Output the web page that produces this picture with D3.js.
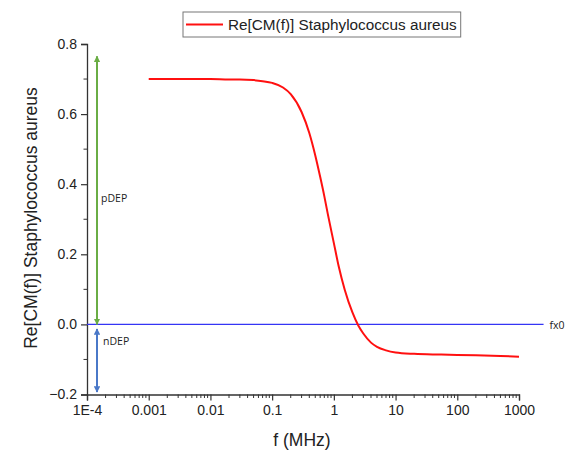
<!DOCTYPE html>
<html>
<head>
<meta charset="utf-8">
<script src="https://cdn.jsdelivr.net/npm/d3@7"></script>
<style>
  body { margin: 0; background: #fff; }
  svg { display: block; }
  text { font-family: "Liberation Sans", Arial, sans-serif; }
  .note { font-family: "Open Sans", "DejaVu Sans", sans-serif; }
</style>
</head>
<body>
<svg id="chart" width="570" height="453"></svg>
<script>
const freq = [0.001, 0.003, 0.01, 0.02, 0.03, 0.05, 0.07, 0.1, 0.15, 0.2, 0.3, 0.4, 0.5, 0.6, 0.7, 0.8,
              1, 1.2, 1.5, 2, 2.5, 3, 4, 5, 7, 10, 20, 50, 100, 200, 500, 1000];
const reCM = [0.700, 0.700, 0.700, 0.699, 0.699, 0.697, 0.694, 0.689, 0.676, 0.657, 0.606, 0.546, 0.482, 0.421, 0.366, 0.314,
              0.232, 0.165, 0.099, 0.034, -0.004, -0.026, -0.052, -0.064, -0.074, -0.080, -0.084, -0.086, -0.087, -0.088, -0.090, -0.092];

const xTicks = [1e-4, 1e-3, 1e-2, 1e-1, 1, 10, 100, 1000];
const xTickLabels = ["1E-4", "0.001", "0.01", "0.1", "1", "10", "100", "1000"];
const yTicks = [-0.2, 0.0, 0.2, 0.4, 0.6, 0.8];

// annotation arrows (y values), zero line extent
const pdepRange = [0.0, 0.765];
const ndepRange = [-0.013, -0.193];
const zeroLineEnd = 2500;

const legendLabel = "Re[CM(f)] Staphylococcus aureus";

let margin = {left: 87, right: 51, top: 44, bottom: 58.5};
let width = 570, height = 453;
let svg = d3.select("#chart");

let xScale = d3.scaleLog()
    .domain([1e-4, 1000])
    .range([margin.left, width - margin.right]);
let yScale = d3.scaleLinear()
    .domain([-0.2, 0.8])
    .range([height - margin.bottom, margin.top]);

// minor ticks for log axis (2..9 in each decade)
let xMinor = [];
for (let d = -4; d < 3; d++) {
    for (let k = 2; k <= 9; k++) xMinor.push(k * Math.pow(10, d));
}
let yMinor = d3.range(-0.1, 0.8, 0.2);

// x axis
let xAxis = d3.axisBottom(xScale).tickValues(xTicks)
    .tickFormat((d, i) => xTickLabels[i]).tickSize(6).tickPadding(5);
let gx = svg.append("g")
    .attr("transform", "translate(0," + yScale(-0.2) + ")")
    .call(xAxis);
gx.append("g").selectAll("line").data(xMinor).enter().append("line")
    .attr("x1", d => xScale(d)).attr("x2", d => xScale(d))
    .attr("y1", 0).attr("y2", 3.5)
    .attr("stroke", "#333");

// y axis
let yAxis = d3.axisLeft(yScale).tickValues(yTicks)
    .tickFormat(d3.format(".1f")).tickSize(6).tickPadding(4);
let gy = svg.append("g")
    .attr("transform", "translate(" + xScale(1e-4) + ",0)")
    .call(yAxis);
gy.append("g").selectAll("line").data(yMinor).enter().append("line")
    .attr("x1", 0).attr("x2", -3.5)
    .attr("y1", d => yScale(d)).attr("y2", d => yScale(d))
    .attr("stroke", "#333");

[gx, gy].forEach(g => {
    g.attr("font-size", null).attr("font-family", null);
    g.select(".domain").attr("stroke", "#333").attr("stroke-width", 1.3);
    g.selectAll(".tick line").attr("stroke", "#333").attr("stroke-width", 1.2);
    g.selectAll(".tick text").style("font-size", "14px").attr("fill", "#222")
        .style("font-family", "'Liberation Sans', Arial, sans-serif");
});

// zero line
svg.append("line")
    .attr("x1", xScale(1e-4)).attr("x2", xScale(zeroLineEnd))
    .attr("y1", yScale(0)).attr("y2", yScale(0))
    .attr("stroke", "#3535f5").attr("stroke-width", 1.3);
svg.append("text").attr("class", "note")
    .attr("x", xScale(zeroLineEnd) + 6).attr("y", yScale(0) + 4.5)
    .style("font-size", "10.5px").attr("fill", "#222").text("fx0");

// arrows
let defs = svg.append("defs");
function marker(id, color) {
    defs.append("marker").attr("id", id)
        .attr("viewBox", "0 0 10 10").attr("refX", 9).attr("refY", 5)
        .attr("markerWidth", 3.2).attr("markerHeight", 3.2)
        .attr("orient", "auto-start-reverse")
        .append("path").attr("d", "M0,0 L10,5 L0,10 Z").attr("fill", color);
}
marker("arrG", "#6aad45");
marker("arrB", "#4a78c8");
let arrowX = xScale(1e-4) + 10;
svg.append("line")
    .attr("x1", arrowX).attr("x2", arrowX)
    .attr("y1", yScale(pdepRange[0])).attr("y2", yScale(pdepRange[1]))
    .attr("stroke", "#6aad45").attr("stroke-width", 2)
    .attr("marker-start", "url(#arrG)").attr("marker-end", "url(#arrG)");
svg.append("line")
    .attr("x1", arrowX).attr("x2", arrowX)
    .attr("y1", yScale(ndepRange[0])).attr("y2", yScale(ndepRange[1]))
    .attr("stroke", "#4a78c8").attr("stroke-width", 2)
    .attr("marker-start", "url(#arrB)").attr("marker-end", "url(#arrB)");
svg.append("text").attr("class", "note")
    .attr("x", arrowX + 4).attr("y", yScale(0.35))
    .style("font-size", "10.5px").attr("fill", "#222").text("pDEP");
svg.append("text").attr("class", "note")
    .attr("x", arrowX + 6).attr("y", yScale(-0.058))
    .style("font-size", "10.5px").attr("fill", "#222").text("nDEP");

// curve
let line = d3.line()
    .x((d, i) => xScale(freq[i]))
    .y(d => yScale(d))
    .curve(d3.curveMonotoneX);
svg.append("path")
    .datum(reCM)
    .attr("d", line)
    .attr("fill", "none")
    .attr("stroke", "#ff1010")
    .attr("stroke-width", 2);

// axis titles
svg.append("text")
    .attr("x", (xScale(1e-4) + xScale(1000)) / 2 - 1).attr("y", 446)
    .attr("text-anchor", "middle").style("font-size", "17.5px").attr("fill", "#222")
    .text("f (MHz)");
svg.append("text")
    .attr("transform", "translate(37," + 218 + ") rotate(-90)")
    .attr("text-anchor", "middle").style("font-size", "17.5px").attr("fill", "#222")
    .text(legendLabel);

// legend
let legend = svg.append("g").attr("transform", "translate(183,12)");
let legText = legend.append("text")
    .attr("x", 45).attr("y", 18)
    .style("font-size", "15.3px").attr("fill", "#222").text(legendLabel);
let tw = legText.node().getComputedTextLength();
legend.insert("rect", "text")
    .attr("x", 0).attr("y", 0).attr("width", tw + 49).attr("height", 25)
    .attr("fill", "#fff").attr("stroke", "#777").attr("stroke-width", 1);
legend.append("line")
    .attr("x1", 3).attr("x2", 40).attr("y1", 12.5).attr("y2", 12.5)
    .attr("stroke", "#ff1010").attr("stroke-width", 2);
</script>
</body>
</html>
